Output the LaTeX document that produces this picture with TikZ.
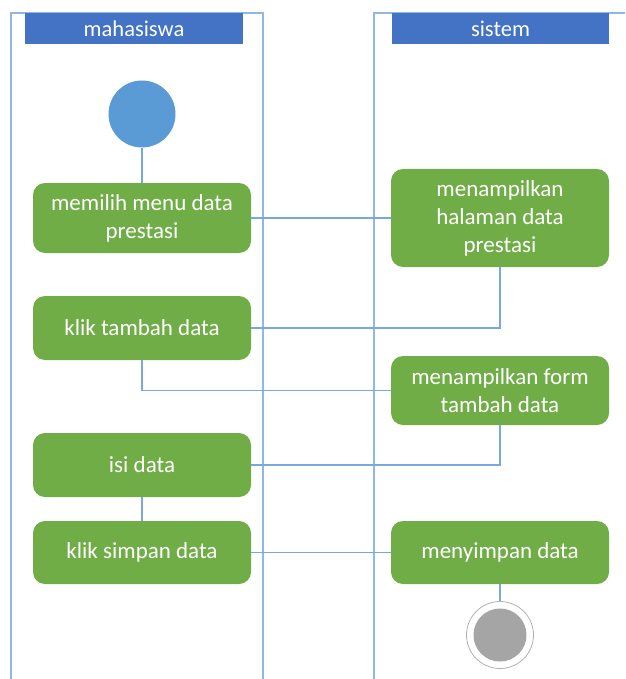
\documentclass[tikz,border=0pt]{standalone}
\usepackage{fontspec}
\setmainfont{Carlito}
\definecolor{actgreen}{HTML}{70AD47}
\definecolor{hdrblue}{HTML}{4472C4}
\definecolor{startblue}{HTML}{5B9BD5}
\definecolor{laneblue}{HTML}{8FB8E6}
\definecolor{flowblue}{HTML}{78A8DE}
\definecolor{endgray}{HTML}{A5A5A5}
\begin{document}
\begin{tikzpicture}[x=1pt,y=-1pt,
  act/.style={rectangle, rounded corners=12pt, fill=actgreen, text=white, align=center,
    font=\fontsize{23}{28}\selectfont, inner sep=0pt, minimum width=218pt},
  lane/.style={draw=laneblue, line width=1.5pt},
  flow/.style={draw=flowblue, line width=1.2pt},
  hdr/.style={fill=hdrblue, text=white, font=\fontsize{22.5}{26}\selectfont,
    minimum height=31pt, inner sep=0pt}]
\useasboundingbox (0,0) rectangle (625,679);
% swimlanes
\draw[lane] (11,679) -- (11,13) -- (263,13) -- (263,679);
\draw[lane] (374,679) -- (374,13) -- (625,13);
\node[hdr, minimum width=218pt] (h1) at (134,28.5) {mahasiswa};
\node[hdr, minimum width=217pt] (h2) at (500.5,28.5) {sistem};
% nodes
\node[circle, fill=startblue, minimum size=67pt, inner sep=0pt] (start) at (142,114) {};
\node[act, minimum height=70pt] (a1) at (142,218) {memilih menu data\\prestasi};
\node[act, minimum height=64pt] (a2) at (142,328) {klik tambah data};
\node[act, minimum height=64pt] (a3) at (142,465) {isi data};
\node[act, minimum height=63pt] (a4) at (142,552.5) {klik simpan data};
\node[act, minimum height=98pt] (b1) at (500,218) {menampilkan\\halaman data\\prestasi};
\node[act, minimum height=69pt] (b2) at (500,390.5) {menampilkan form\\tambah data};
\node[act, minimum height=63pt] (b3) at (500,552.5) {menyimpan data};
\node[circle, draw=gray!60, line width=0.8pt, fill=white, minimum size=67pt, inner sep=0pt] (end) at (500,635) {};
\node[circle, fill=endgray, minimum size=53pt, inner sep=0pt] (endin) at (end) {};
% connectors
\draw[flow] (start) -- (a1);
\draw[flow] (a1) -- (b1);
\draw[flow] (b1.south) |- (a2.east);
\draw[flow] (a2.south) |- (b2.west);
\draw[flow] (b2.south) |- (a3.east);
\draw[flow] (a3) -- (a4);
\draw[flow] (a4) -- (b3);
\draw[flow] (b3) -- (end);
\end{tikzpicture}
\end{document}
